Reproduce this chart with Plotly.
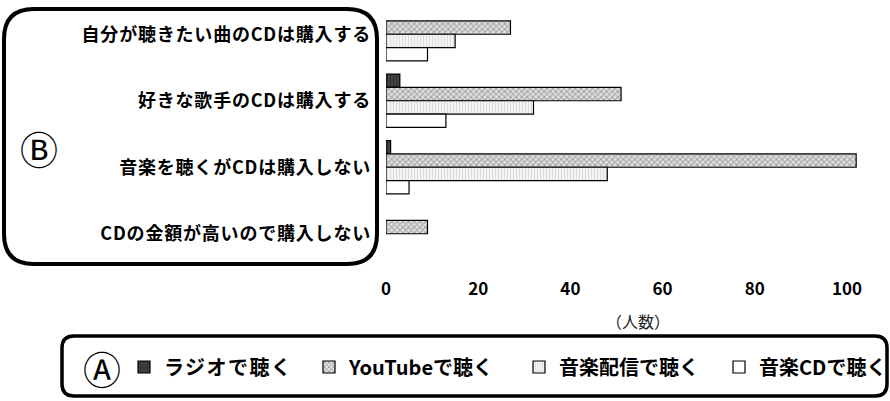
import plotly.graph_objects as go

# ---- data ----
categories = ["自分が聴きたい曲のCDは購入する", "好きな歌手のCDは購入する",
              "音楽を聴くがCDは購入しない", "CDの金額が高いので購入しない"]
series_names = ["ラジオで聴く", "YouTubeで聴く", "音楽配信で聴く", "音楽CDで聴く"]
radio = [0, 3, 1, 0]
youtube = [27, 51, 102, 9]
streaming = [15, 32, 48, 0]
cd_listen = [9, 13, 5, 0]
x_ticks = [0, 20, 40, 60, 80, 100]
x_title = "（人数）"

# ---- layout geometry ----
W, H = 890, 401
L, R, T, B = 386, 20, 1, 134
PW = W - L - R
PH = H - T - B
FONT = "Noto Sans CJK JP"


def px(x):
    return (x - L) / PW


def py(y):
    return (H - B - y) / PH


def rrect(x0, y0, x1, y1, r):
    return (f"M {px(x0 + r)},{py(y0)} L {px(x1 - r)},{py(y0)} "
            f"Q {px(x1)},{py(y0)} {px(x1)},{py(y0 + r)} "
            f"L {px(x1)},{py(y1 - r)} Q {px(x1)},{py(y1)} {px(x1 - r)},{py(y1)} "
            f"L {px(x0 + r)},{py(y1)} Q {px(x0)},{py(y1)} {px(x0)},{py(y1 - r)} "
            f"L {px(x0)},{py(y0 + r)} Q {px(x0)},{py(y0)} {px(x0 + r)},{py(y0)} Z")


styles = [
    dict(color="#3a3a3a", pattern=dict(shape="|", fgcolor="#111111", bgcolor="#444444", size=3, solidity=0.3)),
    dict(color="#d0d0d0", pattern=dict(shape="x", fgcolor="#5e5e5e", bgcolor="#e2e2e2", size=4, solidity=0.45)),
    dict(color="#f2f2f2", pattern=dict(shape="|", fgcolor="#c4c4c4", bgcolor="#f4f4f4", size=3, solidity=0.35)),
    dict(color="#ffffff"),
]
values = [radio, youtube, streaming, cd_listen]
legend_ids = ["legend", "legend2", "legend3", "legend4"]
legend_text_x = [160, 345, 555, 755]

fig = go.Figure()
for name, vals, st, lid in zip(series_names, values, styles, legend_ids):
    fig.add_trace(go.Bar(
        y=categories, x=[v if v else None for v in vals], name=name, orientation="h",
        marker=dict(line=dict(color="#000000", width=1.2), **st),
        legend=lid,
    ))

legend_common = dict(orientation="h", yanchor="middle", y=py(367), xanchor="left",
                     bgcolor="rgba(0,0,0,0)",
                     font=dict(family=FONT, size=20, color="#000000", weight="bold"))
layout_legends = {}
for lid, tx in zip(legend_ids, legend_text_x):
    layout_legends[lid] = dict(x=px(tx - 36), **legend_common)

fig.update_layout(
    width=W, height=H,
    margin=dict(l=L, r=R, t=T, b=B, autoexpand=False),
    paper_bgcolor="white", plot_bgcolor="white",
    barmode="group", bargap=0.2, bargroupgap=0,
    showlegend=True,
    xaxis=dict(range=[0, 105], tickvals=x_ticks, showgrid=False, zeroline=False,
               showline=False, ticks="", ticklabelstandoff=10,
               tickfont=dict(family=FONT, size=17, color="#000000", weight="bold")),
    yaxis=dict(type="category", autorange="reversed", showgrid=False, zeroline=False,
               showline=False, ticks="", ticklabelstandoff=14,
               tickfont=dict(family=FONT, size=18, color="#000000", weight="bold")),
    shapes=[
        dict(type="path", xref="paper", yref="paper", path=rrect(4, 9, 377, 264, 30),
             line=dict(color="#000000", width=4), layer="above"),
        dict(type="path", xref="paper", yref="paper", path=rrect(62, 336, 887, 396, 12),
             line=dict(color="#000000", width=3.5), layer="above"),
    ],
    annotations=[
        dict(text=x_title, xref="paper", yref="paper", x=px(638), y=py(321),
             showarrow=False, xanchor="center", yanchor="middle",
             font=dict(family=FONT, size=16, color="#222222")),
        dict(text="Ⓑ", xref="paper", yref="paper", x=px(39), y=py(147),
             showarrow=False, xanchor="center", yanchor="middle",
             font=dict(family=FONT, size=38, color="#000000")),
        dict(text="Ⓐ", xref="paper", yref="paper", x=px(102), y=py(367),
             showarrow=False, xanchor="center", yanchor="middle",
             font=dict(family=FONT, size=38, color="#000000")),
    ],
    **layout_legends,
)

post = """
document.body.style.margin = '0';
var gd = document.getElementById('{plot_id}');
function spacing() {
  gd.querySelectorAll('.ytick text').forEach(function (t) { t.style.letterSpacing = '0.8px'; });
  gd.querySelectorAll('.legendtext').forEach(function (t) { t.style.letterSpacing = '1.5px'; });
}
spacing();
gd.on('plotly_afterplot', spacing);
"""

fig.write_html("out.html", post_script=post, config={"displayModeBar": False})
